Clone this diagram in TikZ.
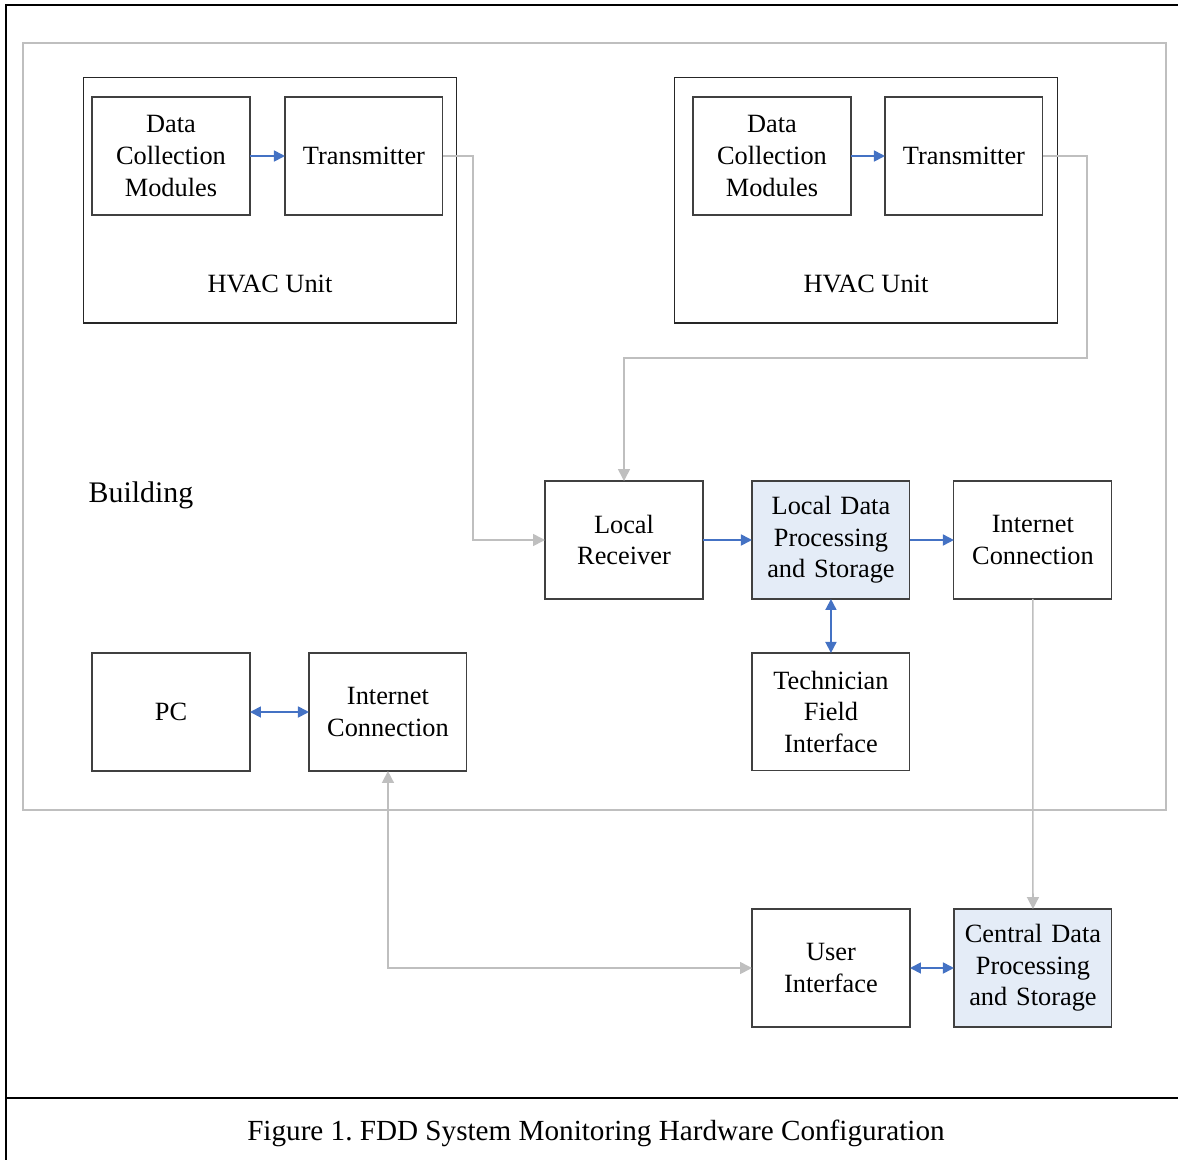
\documentclass[tikz,border=0pt]{standalone}
\usepackage{fontspec}
\setmainfont{Liberation Serif}
\usetikzlibrary{arrows.meta, positioning}
\definecolor{linkblue}{HTML}{4472C4}
\definecolor{linkgray}{HTML}{BFBFBF}
\definecolor{boxfill}{HTML}{E4ECF7}
\definecolor{boxline}{HTML}{404040}
\frenchspacing

\begin{document}
\begin{tikzpicture}[
    x=0.02cm, y=-0.02cm,
    node distance=1.0cm and 0.9cm,
    block/.style={rectangle, draw=boxline, line width=0.6pt, text width=3.0cm, align=center, minimum width=3.16cm, minimum height=2.36cm, inner sep=0pt, outer sep=0pt, font=\fontsize{15}{18}\selectfont},
    store/.style={block, fill=boxfill},
    unit/.style={rectangle, draw=black!85, line width=0.6pt, minimum width=7.48cm, minimum height=4.92cm, inner sep=0pt},
    unit_label/.style={font=\fontsize{15}{18}\selectfont},
    blue_arr/.style={-{Triangle[length=2.2mm,width=2.2mm]}, line width=1pt, color=linkblue},
    blue_both/.style={{Triangle[length=2.2mm,width=2.2mm]}-{Triangle[length=2.2mm,width=2.2mm]}, line width=1pt, color=linkblue},
    gray_arr/.style={-{Triangle[length=2.4mm,width=2.4mm]}, line width=0.9pt, color=linkgray},
    gray_both/.style={{Triangle[length=2.4mm,width=2.4mm]}-{Triangle[length=2.4mm,width=2.4mm]}, line width=0.9pt, color=linkgray}
]
    \useasboundingbox (0,0) rectangle (1178,1160);

    % Frame and building
    \draw[line width=1.1pt] (6,1160) -- (6,5) -- (1178,5);
    \draw[line width=1.1pt] (6,1098) -- (1178,1098);
    \node[rectangle, draw=linkgray, line width=1.3pt, minimum width=22.86cm, minimum height=15.34cm, inner sep=0pt] (building) at (594.5,426.5) {};
    \node[font=\fontsize{17}{20}\selectfont] (building_label) at (141,495) {Building};

    % HVAC units
    \node[unit] (hvac1) at (270,200) {};
    \node[unit_label] (hvac1_label) at (270,284) {HVAC Unit};
    \node[block] (dcm1) at (171,156) {Data\\Collection\\Modules};
    \node[block, right=0.7cm of dcm1] (trans1) {Transmitter};

    \node[unit, minimum width=7.68cm] (hvac2) at (866,200) {};
    \node[unit_label] (hvac2_label) at (866,284) {HVAC Unit};
    \node[block] (dcm2) at (772,156) {Data\\Collection\\Modules};
    \node[block, right=0.68cm of dcm2] (trans2) {Transmitter};

    % Local side
    \node[block] (recv) at (624,540) {Local\\Receiver};
    \node[store, right=0.98cm of recv] (local) {Local Data\\Processing\\and Storage};
    \node[block, right=0.88cm of local] (inet1) {Internet\\Connection};
    \node[block, below=1.08cm of local] (tech) {Technician\\Field\\Interface};

    \node[block] (pc) at (171,712) {PC};
    \node[block, right=1.18cm of pc] (inet2) {Internet\\Connection};

    % Central side
    \node[block] (ui) at (831,968) {User\\Interface};
    \node[store, right=0.88cm of ui] (central) {Central Data\\Processing\\and Storage};

    \node[font=\fontsize{16.6}{19}\selectfont] (caption) at (596,1133) {Figure 1. FDD System Monitoring Hardware Configuration};

    % Arrows
    \draw[blue_arr] (dcm1) -- (trans1);
    \draw[blue_arr] (dcm2) -- (trans2);
    \draw[gray_arr] (trans1.east) -- ++(30,0) |- (recv.west);
    \draw[gray_arr] (trans2.east) -- ++(44,0) -- ++(0,202) -| (recv.north);
    \draw[blue_arr] (recv) -- (local);
    \draw[blue_arr] (local) -- (inet1);
    \draw[blue_both] (local) -- (tech);
    \draw[blue_both] (pc) -- (inet2);
    \draw[gray_arr] (inet1) -- (central);
    \draw[gray_both] (inet2.south) |- (ui.west);
    \draw[blue_both] (ui) -- (central);
\end{tikzpicture}
\end{document}
